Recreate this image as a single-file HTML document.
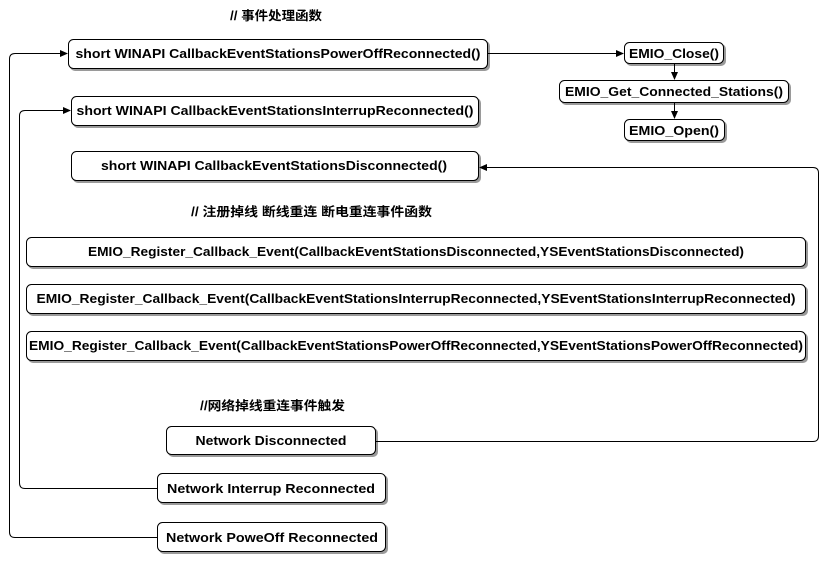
<!DOCTYPE html>
<html><head><meta charset="utf-8"><style>
html,body{margin:0;padding:0;background:#fff;}
svg{display:block;}
text{font-family:"Liberation Sans","Noto Sans CJK SC",sans-serif;font-weight:bold;font-size:12.5px;fill:#000;}
.b{fill:#fff;stroke:#000;stroke-width:1;}
.s{fill:#9a9a9a;}
.l{fill:none;stroke:#000;stroke-width:1;}
</style></head><body>
<svg width="826" height="564" viewBox="0 0 826 564">
<defs><marker id="a" markerWidth="8" markerHeight="8" refX="7" refY="4" orient="auto" markerUnits="userSpaceOnUse"><path d="M0,0.5 L8,4 L0,7.5 Z" fill="#000"/></marker></defs>
<text x="230" y="20" font-size="12" textLength="92" lengthAdjust="spacingAndGlyphs">// 事件处理函数</text>
<text x="191" y="216" font-size="12" textLength="241" lengthAdjust="spacingAndGlyphs">// 注册掉线 断线重连 断电重连事件函数</text>
<text x="200" y="410" font-size="12" textLength="145" lengthAdjust="spacingAndGlyphs">//网络掉线重连事件触发</text>

<g>
<rect class="s" x="70" y="41" width="420" height="30" rx="5"/><rect class="b" x="68.5" y="39.5" width="419" height="29" rx="5"/>
<text x="278" y="58" text-anchor="middle" textLength="405" lengthAdjust="spacingAndGlyphs">short WINAPI CallbackEventStationsPowerOffReconnected()</text>
<rect class="s" x="73" y="98" width="408" height="30" rx="5"/><rect class="b" x="71.5" y="96.5" width="407" height="29" rx="5"/>
<text x="275" y="115" text-anchor="middle" textLength="397" lengthAdjust="spacingAndGlyphs">short WINAPI CallbackEventStationsInterrupReconnected()</text>
<rect class="s" x="73" y="153" width="408" height="30" rx="5"/><rect class="b" x="71.5" y="151.5" width="407" height="29" rx="5"/>
<text x="274" y="170" text-anchor="middle" textLength="346" lengthAdjust="spacingAndGlyphs">short WINAPI CallbackEventStationsDisconnected()</text>

<rect class="s" x="626" y="44" width="100" height="22" rx="5"/><rect class="b" x="624.5" y="42.5" width="99" height="21" rx="5"/>
<text x="674" y="58" text-anchor="middle" textLength="90" lengthAdjust="spacingAndGlyphs">EMIO_Close()</text>
<rect class="s" x="561" y="82" width="230" height="23" rx="5"/><rect class="b" x="559.5" y="80.5" width="229" height="22" rx="5"/>
<text x="674" y="96" text-anchor="middle" textLength="218" lengthAdjust="spacingAndGlyphs">EMIO_Get_Connected_Stations()</text>
<rect class="s" x="626" y="121" width="101" height="22" rx="5"/><rect class="b" x="624.5" y="119.5" width="100" height="21" rx="5"/>
<text x="674" y="135" text-anchor="middle" textLength="90" lengthAdjust="spacingAndGlyphs">EMIO_Open()</text>

<rect class="s" x="28" y="239" width="780" height="30" rx="5"/><rect class="b" x="26.5" y="237.5" width="779" height="29" rx="5"/>
<text x="416" y="256" text-anchor="middle" textLength="656" lengthAdjust="spacingAndGlyphs">EMIO_Register_Callback_Event(CallbackEventStationsDisconnected,YSEventStationsDisconnected)</text>
<rect class="s" x="28" y="286" width="780" height="30" rx="5"/><rect class="b" x="26.5" y="284.5" width="779" height="29" rx="5"/>
<text x="416" y="303" text-anchor="middle" textLength="759" lengthAdjust="spacingAndGlyphs">EMIO_Register_Callback_Event(CallbackEventStationsInterrupReconnected,YSEventStationsInterrupReconnected)</text>
<rect class="s" x="28" y="333" width="780" height="30" rx="5"/><rect class="b" x="26.5" y="331.5" width="779" height="29" rx="5"/>
<text x="416" y="350" text-anchor="middle" textLength="774" lengthAdjust="spacingAndGlyphs">EMIO_Register_Callback_Event(CallbackEventStationsPowerOffReconnected,YSEventStationsPowerOffReconnected)</text>

<rect class="s" x="168" y="428" width="210" height="29" rx="5"/><rect class="b" x="166.5" y="426.5" width="209" height="28" rx="5"/>
<text x="271" y="445" text-anchor="middle" textLength="151" lengthAdjust="spacingAndGlyphs">Network Disconnected</text>
<rect class="s" x="159" y="475" width="229" height="30" rx="5"/><rect class="b" x="157.5" y="473.5" width="228" height="29" rx="5"/>
<text x="271" y="493" text-anchor="middle" textLength="208" lengthAdjust="spacingAndGlyphs">Network Interrup Reconnected</text>
<rect class="s" x="159" y="524" width="229" height="30" rx="5"/><rect class="b" x="157.5" y="522.5" width="228" height="29" rx="5"/>
<text x="272" y="542" text-anchor="middle" textLength="212" lengthAdjust="spacingAndGlyphs">Network PoweOff Reconnected</text>
</g>

<path class="l" d="M488,53.5 L623,53.5" marker-end="url(#a)"/>
<path class="l" d="M674.5,64 L674.5,79" marker-end="url(#a)"/>
<path class="l" d="M674.5,103 L674.5,118" marker-end="url(#a)"/>
<path class="l" d="M376,441.5 L813,441.5 Q818.5,441.5 818.5,436 L818.5,173 Q818.5,167.5 813,167.5 L480,167.5" marker-end="url(#a)"/>
<path class="l" d="M157,488.5 L25,488.5 Q19.5,488.5 19.5,483 L19.5,116 Q19.5,110.5 25,110.5 L70,110.5" marker-end="url(#a)"/>
<path class="l" d="M157,537.5 L15,537.5 Q9.5,537.5 9.5,532 L9.5,59 Q9.5,53.5 15,53.5 L67,53.5" marker-end="url(#a)"/>
</svg>
</body></html>
